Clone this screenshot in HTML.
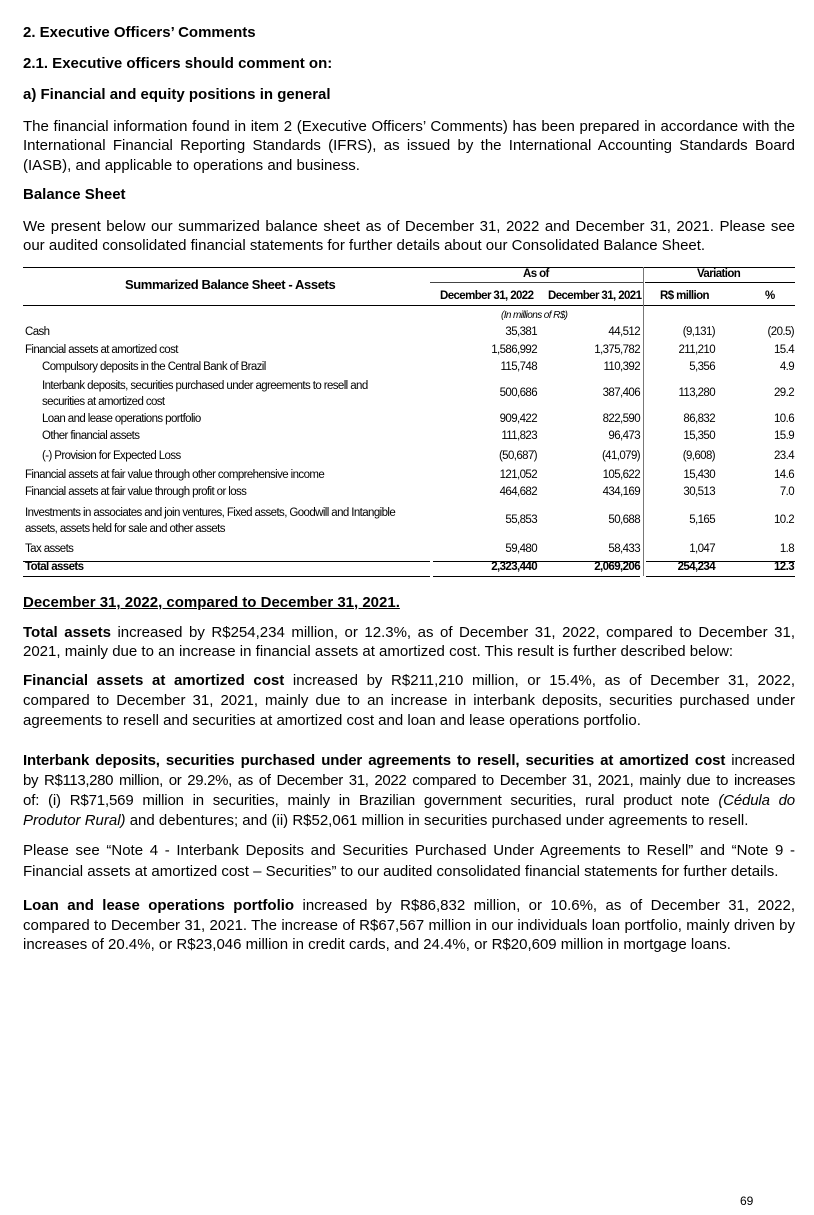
<!DOCTYPE html>
<html><head><meta charset="utf-8"><style>
body{margin:0;background:#fff;width:814px;height:1215px;position:relative;font-family:"Liberation Sans",Arial,sans-serif;color:#000;overflow:hidden}
.p{position:absolute;left:23px;width:772px;font-size:15px;line-height:19.3px;text-align:justify;margin:0}
.h{font-weight:bold}
.t{position:absolute;font-size:11.5px;letter-spacing:-0.6px;white-space:nowrap;line-height:13px}
.r{text-align:right}
.ln{position:absolute;background:#000;height:1px}
.j{text-align:justify;text-align-last:justify;white-space:nowrap;letter-spacing:-0.15px}
</style></head><body>
<div class="p h" style="top:23px">2. Executive Officers’ Comments</div>
<div class="p h" style="top:54px">2.1. Executive officers should comment on:</div>
<div class="p h" style="top:85px">a) Financial and equity positions in general</div>
<div class="p" style="top:117px">The financial information found in item 2 (Executive Officers’ Comments) has been prepared in accordance with the International Financial Reporting Standards (IFRS), as issued by the International Accounting Standards Board (IASB), and applicable to operations and business.</div>
<div class="p h" style="top:185px">Balance Sheet</div>
<div class="p" style="top:217px">We present below our summarized balance sheet as of December 31, 2022 and December 31, 2021. Please see our audited consolidated financial statements for further details about our Consolidated Balance Sheet.</div>

<div class="ln" style="left:23px;top:267px;width:772px"></div>
<div class="ln" style="left:430px;top:282px;width:213px;background:#444"></div>
<div class="ln" style="left:645px;top:282px;width:150px"></div>
<div class="ln" style="left:23px;top:305px;width:772px"></div>
<div style="position:absolute;left:643px;top:267px;width:1px;height:309px;background:#777"></div>
<div class="ln" style="left:23px;top:561px;width:407px"></div>
<div class="ln" style="left:433px;top:561px;width:207px"></div>
<div class="ln" style="left:646px;top:561px;width:149px"></div>
<div class="ln" style="left:23px;top:576px;width:407px"></div>
<div class="ln" style="left:433px;top:576px;width:207px"></div>
<div class="ln" style="left:646px;top:576px;width:149px"></div>

<div class="t" style="left:125px;top:278px;font-size:13px;font-weight:bold;letter-spacing:-0.4px">Summarized Balance Sheet - Assets</div>
<div class="t" style="left:523px;top:268px;font-weight:bold">As of</div>
<div class="t" style="left:697px;top:268px;font-weight:bold">Variation</div>
<div class="t" style="left:440px;top:290px;font-weight:bold">December 31, 2022</div>
<div class="t" style="left:548px;top:290px;font-weight:bold">December 31, 2021</div>
<div class="t" style="left:660px;top:290px;font-weight:bold">R$ million</div>
<div class="t" style="left:765px;top:290px;font-weight:bold">%</div>
<div class="t" style="left:501px;top:309px;font-style:italic;font-size:10px">(In millions of R$)</div>

<div id="rows"></div>
<script>
var rows=[
["Cash",333,0,"35,381","44,512","(9,131)","(20.5)"],
["Financial assets at amortized cost",351,0,"1,586,992","1,375,782","211,210","15.4"],
["Compulsory deposits in the Central Bank of Brazil",368,1,"115,748","110,392","5,356","4.9"],
["Interbank deposits, securities purchased under agreements to resell and<br>securities at amortized cost",394,1,"500,686","387,406","113,280","29.2"],
["Loan and lease operations portfolio",420,1,"909,422","822,590","86,832","10.6"],
["Other financial assets",437,1,"111,823","96,473","15,350","15.9"],
["(-) Provision for Expected Loss",457,1,"(50,687)","(41,079)","(9,608)","23.4"],
["Financial assets at fair value through other comprehensive income",476,0,"121,052","105,622","15,430","14.6"],
["Financial assets at fair value through profit or loss",493,0,"464,682","434,169","30,513","7.0"],
["Investments in associates and join ventures, Fixed assets, Goodwill and Intangible<br>assets, assets held for sale and other assets",521,0,"55,853","50,688","5,165","10.2"],
["Tax assets",550,0,"59,480","58,433","1,047","1.8"],
["Total assets",568,0,"2,323,440","2,069,206","254,234","12.3"]];
var h="",rs=[537,640,715,794];
rows.forEach(function(r,i){var b=i==11?"font-weight:bold;":"";var two=r[0].indexOf("<br>")>0;
h+='<div class="t" style="'+b+'left:'+(r[2]?42:25)+'px;top:'+(r[1]-(two?16:7))+'px;line-height:'+(two?'16px':'13px')+'">'+r[0]+'</div>';
for(var k=0;k<4;k++)h+='<div class="t r" style="'+b+'left:'+(rs[k]-100)+'px;width:100px;top:'+(r[1]-7)+'px">'+r[3+k]+'</div>';});
document.getElementById("rows").innerHTML=h;
</script>

<div class="p h" style="top:593px"><u>December 31, 2022, compared to December 31, 2021.</u></div>
<div class="p" style="top:623px"><b>Total assets</b> increased by R$254,234 million, or 12.3%, as of December 31, 2022, compared to December 31, 2021, mainly due to an increase in financial assets at amortized cost. This result is further described below:</div>
<div class="p" style="top:671px;line-height:20px"><b>Financial assets at amortized cost</b> increased by R$211,210 million, or 15.4%, as of December 31, 2022, compared to December 31, 2021, mainly due to an increase in interbank deposits, securities purchased under agreements to resell and securities at amortized cost and loan and lease operations portfolio.</div>
<div class="p" style="top:751px;line-height:20px">
<div class="j"><b>Interbank deposits, securities purchased under agreements to resell, securities at amortized cost</b> increased</div>
<div class="j" style="letter-spacing:-0.35px">by R$113,280 million, or 29.2%, as of December 31, 2022 compared to December 31, 2021, mainly due to increases</div>
<div class="j">of: (i) R$71,569 million in securities, mainly in Brazilian government securities, rural product note <i>(Cédula do</i></div>
<div style="white-space:nowrap;text-align:left"><i>Produtor Rural)</i> and debentures; and (ii) R$52,061 million in securities purchased under agreements to resell.</div>
</div>
<div class="p" style="top:840px;line-height:21px">Please see “Note 4 - Interbank Deposits and Securities Purchased Under Agreements to Resell” and “Note 9 - Financial assets at amortized cost – Securities” to our audited consolidated financial statements for further details.</div>
<div class="p" style="top:896px;line-height:19.5px"><b>Loan and lease operations portfolio</b> increased by R$86,832 million, or 10.6%, as of December 31, 2022, compared to December 31, 2021. The increase of R$67,567 million in our individuals loan portfolio, mainly driven by increases of 20.4%, or R$23,046 million in credit cards, and 24.4%, or R$20,609 million in mortgage loans.</div>
<div style="position:absolute;left:740px;top:1194px;font-size:12px">69</div>
</body></html>
